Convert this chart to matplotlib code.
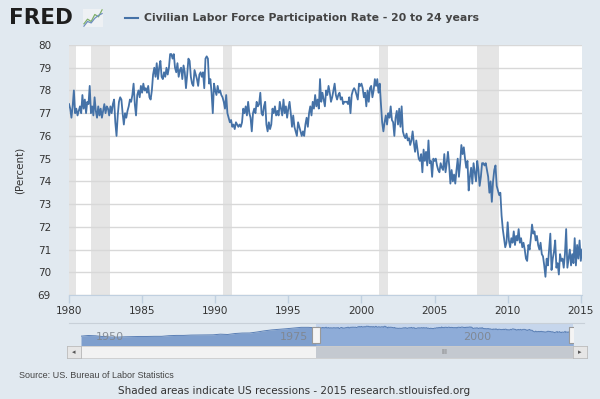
import numpy as np
import matplotlib
matplotlib.use('Agg')
import matplotlib.pyplot as plt
from matplotlib.lines import Line2D

# monthly values, Jan 1980 onwards (percent)
rate_1980s = [
    77.4, 77.2, 76.8, 77.3, 78.0, 77.0, 77.2, 76.9, 77.1, 77.3, 77.0, 77.8,
    77.2, 77.6, 77.0, 77.5, 77.4, 78.2, 77.0, 77.3, 76.9, 77.7, 77.1, 76.8,
    77.3, 76.9, 77.2, 76.8, 77.1, 77.4, 77.0, 77.3, 77.2, 76.9, 77.3, 77.0,
    77.4, 77.6, 76.6, 76.0, 76.9, 77.5, 77.7, 77.6, 77.0, 76.5, 77.0, 76.8,
    77.1, 77.3, 77.6, 77.5, 77.8, 78.3, 77.4, 76.9, 77.8, 78.0, 77.7, 78.2,
    77.9, 78.3, 78.0, 78.1, 77.9, 78.2, 77.7, 77.6, 78.0, 78.7, 79.0, 78.6,
    79.2, 78.5, 79.0, 79.3, 78.6, 78.5, 78.8, 78.6, 79.0, 78.7, 79.0, 79.6,
    79.6, 79.4, 79.6, 79.0, 78.8, 79.2, 78.6, 78.9, 79.0, 78.5, 79.1, 78.8,
    78.1, 78.7, 79.4, 79.3, 78.6, 78.3, 78.2, 78.9, 78.7, 78.5, 78.2, 78.7,
    78.8, 78.6, 78.8, 78.1, 79.4, 79.5, 79.4, 78.3, 78.5, 77.9, 77.0, 78.3,
]
rate_1990s = [
    78.0, 77.8, 78.2, 77.9, 78.0, 77.8, 77.7, 77.5, 77.2, 77.8, 77.0, 76.8,
    76.6, 76.7, 76.4, 76.5, 76.3, 76.6, 76.5, 76.4, 76.5, 76.4, 76.6, 77.2,
    77.0, 77.3, 76.9, 77.5, 77.0, 76.8, 76.2, 77.0, 77.2, 77.0, 77.5, 77.3,
    77.4, 77.9, 77.0, 76.9, 77.3, 77.5, 76.5, 76.2, 76.6, 76.3, 76.5, 77.2,
    77.0, 77.3, 76.9, 77.1, 76.9, 77.5, 77.2, 76.9, 77.6, 77.0, 77.3, 76.8,
    77.2, 77.5, 77.0, 76.4, 76.9, 76.4, 76.2, 76.0, 76.6, 76.4, 76.2, 76.0,
    76.2, 76.0, 76.5, 76.8, 76.4, 77.0, 77.3, 76.9, 77.5, 77.2, 77.8, 77.3,
    77.6, 77.2, 78.5, 77.5, 77.9, 77.6, 77.3, 78.0, 77.8, 78.2, 77.9, 77.5,
    77.7, 78.0, 78.3, 77.8, 77.6, 77.8, 77.9, 77.6, 77.7, 77.4, 77.5, 77.5,
    77.5, 77.4, 77.7, 77.0, 77.8, 78.0, 78.1, 78.0, 77.8, 77.6, 78.3, 78.2,
]
rate_2000s = [
    78.3, 78.1, 77.7, 77.9, 77.3, 78.0, 77.5, 78.1, 78.2, 77.7, 78.0, 78.5,
    78.2, 78.5, 77.9, 78.3, 77.4, 76.6, 76.2, 76.6, 76.9, 76.5, 77.0, 76.8,
    77.3, 76.7, 76.6, 76.0, 76.8, 77.1, 76.5, 77.2, 76.4, 77.3, 76.2, 76.0,
    75.9, 76.1, 75.8, 75.9, 75.6, 75.8, 76.2, 75.7, 75.3, 75.8, 75.4, 75.0,
    74.9, 75.2, 74.4, 75.4, 74.9, 75.3, 74.7, 75.8, 74.8, 74.9, 74.2, 75.0,
    74.9, 75.0, 74.7, 74.5, 74.4, 74.8, 74.6, 74.5, 75.2, 74.4, 74.8, 75.3,
    74.7, 73.9, 74.5, 74.0, 74.3, 73.9, 74.5, 75.0, 74.2, 74.8, 75.6, 75.2,
    75.5, 75.0, 74.6, 74.9, 73.6, 74.2, 74.6, 73.9, 74.8, 74.4, 74.0, 74.9,
    74.5, 73.8, 74.2, 74.8, 74.8, 74.7, 74.8, 74.5, 74.2, 73.5, 74.0, 73.1,
    74.0, 74.5, 74.7, 73.8, 73.6, 73.4, 73.5, 72.5, 71.9, 71.5, 71.1, 71.3,
]
rate_2010s = [
    72.2, 71.4, 71.1, 71.5, 71.3, 71.8, 71.2, 71.6, 71.4, 71.9, 71.3, 71.5,
    71.1, 71.3, 71.0, 70.6, 70.5, 71.2, 71.0, 71.5, 72.1, 71.7, 71.8, 71.4,
    71.6, 71.2, 71.0, 71.3, 70.8, 70.7, 70.3, 69.8, 70.6, 70.3, 71.0, 71.7,
    70.1, 70.6, 70.9, 71.4, 70.2, 70.4, 69.9, 70.8, 70.5, 70.6, 70.2, 70.8,
    71.9, 70.2, 70.6, 71.0, 70.3, 70.8, 70.4, 71.5, 70.3, 71.2, 70.6, 71.4,
    70.5, 71.0,
]

# annual values before 1980, only used in the navigator strip
early_years = list(range(1948, 1980))
early_rate = [
    64.5, 65.5, 65.0, 63.8, 63.2, 63.0, 63.5, 63.8, 64.0, 64.0, 64.2, 64.2,
    65.2, 65.6, 65.6, 66.1, 66.2, 66.4, 66.5, 67.5, 67.0, 68.5, 69.2, 69.3,
    70.8, 72.6, 74.0, 74.9, 75.8, 76.9, 77.9, 77.9,
]

recession_start = [1980.0, 1981.5, 1990.5, 2001.17, 2007.92]
recession_end = [1980.5, 1982.83, 1991.17, 2001.83, 2009.42]

yticks = list(range(69, 81))
xticks = list(range(1980, 2016, 5))
nav_labels = [1950, 1975, 2000]

# small logo sparkline
logo_a = [1, 2, 1.5, 3, 2.5, 4]
logo_b = [0.5, 1.5, 1.2, 2.2, 2.8, 3.2]

BG = '#e1e9f0'
LINE = '#4572a7'
TXT = '#333333'

rate = np.array(rate_1980s + rate_1990s + rate_2000s + rate_2010s)
months = 1980 + np.arange(len(rate)) / 12.0
x_end = months[-1]

W, H = 600, 399


def fx(px):
    return px / W


def fy(py):
    return 1 - py / H


fig = plt.figure(figsize=(6, 3.99), dpi=100, facecolor=BG)

# main chart
ax = fig.add_axes([fx(69), fy(295), fx(582) - fx(69), fy(45) - fy(295)])
ax.set_facecolor('white')
for s, e in zip(recession_start, recession_end):
    ax.axvspan(s, e, color='#e5e5e5', lw=0, zorder=1)
for yv in yticks:
    ax.axhline(yv, color='#d8d8d8', lw=1, zorder=2)
ax.plot(months, rate, color=LINE, lw=1.3, zorder=3)
ax.set_xlim(1980, x_end)
ax.set_ylim(69, 80)
ax.set_yticks(yticks)
ax.set_xticks(xticks)
for sp in ['top', 'right', 'left']:
    ax.spines[sp].set_visible(False)
ax.spines['bottom'].set_color('#c0d0e0')
ax.tick_params(axis='y', length=0, pad=13, labelsize=7.5, labelcolor=TXT)
ax.tick_params(axis='x', length=6, width=1, color='#c0d0e0', pad=2,
               labelsize=7.5, labelcolor=TXT)
fig.text(fx(20), fy(170), '(Percent)', rotation=90, ha='center', va='center',
         fontsize=7.5, color=TXT)

# header
fig.text(fx(9), fy(18), 'FRED', fontsize=15.5, fontweight='heavy', color='#1e1e1e',
         ha='left', va='center')
logo = fig.add_axes([fx(83), fy(27), fx(20), fy(9) - fy(27)])
logo.set_facecolor('#eef1f4')
logo.plot(logo_a, color='#7fb06a', lw=0.9)
logo.plot(logo_b, color='#6f8fbf', lw=0.9)
logo.set_xticks([])
logo.set_yticks([])
for sp in logo.spines.values():
    sp.set_visible(False)
fig.add_artist(Line2D([fx(125), fx(138)], [fy(18), fy(18)], color=LINE, lw=1.5))
fig.text(fx(144), fy(18), 'Civilian Labor Force Participation Rate - 20 to 24 years',
         fontsize=7.8, fontweight='bold', color='#444444', ha='left', va='center')

# navigator
fig.add_artist(Line2D([fx(69), fx(584)], [fy(323), fy(323)], color='#c8d0d8', lw=0.8))
nav = fig.add_axes([fx(81), fy(345), fx(573) - fx(81), fy(324) - fy(345)])
nav.set_facecolor(BG)
nav_x = np.concatenate([early_years, months])
nav_y = np.concatenate([early_rate, rate])
nav.axvspan(1980, x_end, color='#c6d6ec', lw=0, zorder=0)
nav.fill_between(nav_x, 50, nav_y, color='#7f9fcd', lw=0, zorder=1)
nav.fill_between(months, 50, rate, color='#8eacd8', lw=0, zorder=2)
nav.plot(nav_x, nav_y, color='#5a7fb5', lw=0.7, zorder=3)
for yr in nav_labels:
    nav.text(yr + 2, 56, str(yr), fontsize=8, color='#7f858d', ha='center',
             va='bottom', zorder=4, alpha=0.9)
handle = [(-1, -2), (1, -2), (1, 2), (-1, 2), (-1, -2)]
nav.plot([1980, x_end], [67, 67], ls='none', marker=handle, markersize=11,
         markerfacecolor='#f4f4f4', markeredgecolor='#999999', mew=0.8, zorder=5)
nav.set_xlim(1948, x_end)
nav.set_ylim(51, 83)
nav.set_xticks([])
nav.set_yticks([])
for sp in nav.spines.values():
    sp.set_visible(False)

# scrollbar
bar = fig.add_axes([fx(81), fy(358), fx(573) - fx(81), fy(346) - fy(358)])
bar.set_facecolor('#f2f2f2')
bar.axvspan(1980, x_end, color='#c4c9d0', lw=0)
bar.text((1980 + x_end) / 2, 0.5, 'III', fontsize=5, color='#777777',
         ha='center', va='center', transform=bar.get_xaxis_transform())
bar.set_xlim(1948, x_end)
bar.set_ylim(0, 1)
bar.set_xticks([])
bar.set_yticks([])
for sp in bar.spines.values():
    sp.set_color('#cccccc')
    sp.set_linewidth(0.6)
for left, arrow in [(67, '\u25c2'), (573, '\u25b8')]:
    b = fig.add_axes([fx(left), fy(358), fx(14), fy(346) - fy(358)])
    b.set_facecolor('#e6e6e6')
    b.set_xticks([])
    b.set_yticks([])
    for sp in b.spines.values():
        sp.set_color('#bbbbbb')
        sp.set_linewidth(0.6)
    b.text(0.5, 0.5, arrow, fontsize=5, color='#555555', ha='center', va='center',
           transform=b.transAxes)

# footer
fig.text(fx(19), fy(376), 'Source: US. Bureau of Labor Statistics', fontsize=6.5,
         color='#444444', ha='left', va='center', family='Liberation Sans')
fig.text(fx(294), fy(391), 'Shaded areas indicate US recessions - 2015 research.stlouisfed.org',
         fontsize=7.5, color='#333333', ha='center', va='center')

fig.savefig('out.png', dpi=100, facecolor=BG)
